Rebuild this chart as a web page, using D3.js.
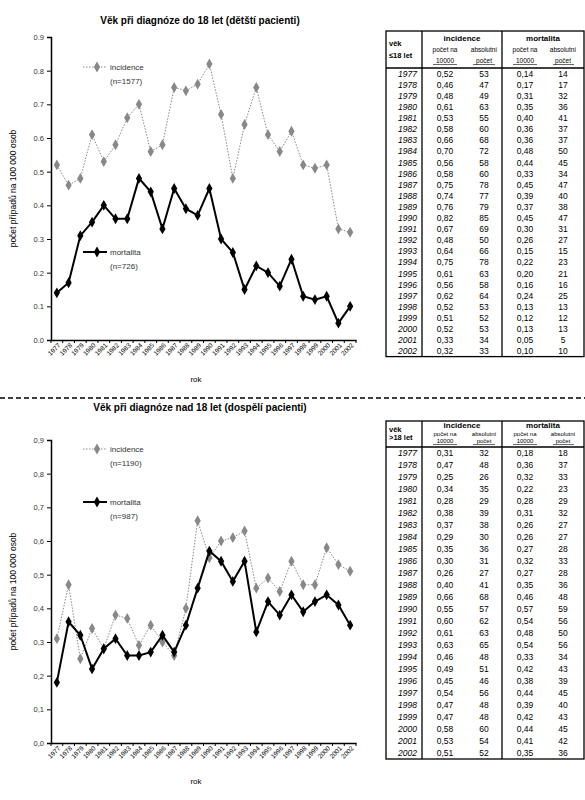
<!DOCTYPE html>
<html><head><meta charset="utf-8">
<script src="https://cdn.jsdelivr.net/npm/d3@7"></script>
<style>body{margin:0;background:#fff}</style>
</head><body>
<svg id="c" width="585" height="800"></svg>
<script>
const roky = d3.range(1977, 2003);
// děti
const detiIncRate = [0.52,0.46,0.48,0.61,0.53,0.58,0.66,0.70,0.56,0.58,0.75,0.74,0.76,0.82,0.67,0.48,0.64,0.75,0.61,0.56,0.62,0.52,0.51,0.52,0.33,0.32];
const detiIncAbs  = [53,47,49,63,55,60,68,72,58,60,78,77,79,85,69,50,66,78,63,58,64,53,52,53,34,33];
const detiMortRate = [0.14,0.17,0.31,0.35,0.40,0.36,0.36,0.48,0.44,0.33,0.45,0.39,0.37,0.45,0.30,0.26,0.15,0.22,0.20,0.16,0.24,0.13,0.12,0.13,0.05,0.10];
const detiMortAbs  = [14,17,32,36,41,37,37,50,45,34,47,40,38,47,31,27,15,23,21,16,25,13,12,13,5,10];
// dospělí
const dospIncRate = [0.31,0.47,0.25,0.34,0.28,0.38,0.37,0.29,0.35,0.30,0.26,0.40,0.66,0.55,0.60,0.61,0.63,0.46,0.49,0.45,0.54,0.47,0.47,0.58,0.53,0.51];
const dospIncAbs  = [32,48,26,35,29,39,38,30,36,31,27,41,68,57,62,63,65,48,51,46,56,48,48,60,54,52];
const dospMortRate = [0.18,0.36,0.32,0.22,0.28,0.31,0.26,0.26,0.27,0.32,0.27,0.35,0.46,0.57,0.54,0.48,0.54,0.33,0.42,0.38,0.44,0.39,0.42,0.44,0.41,0.35];
const dospMortAbs  = [18,37,33,23,29,32,27,27,28,33,28,36,48,59,56,50,56,34,43,39,45,40,43,45,42,36];
const yTicks = [0,0.1,0.2,0.3,0.4,0.5,0.6,0.7,0.8,0.9];

const svg = d3.select("#c");
const F = "Liberation Sans, Arial, sans-serif";

let panel = (o) => {
    const x = d3.scaleBand().domain(roky).range([51, 356]);
    const y = d3.scaleLinear().domain([0, 0.9]).range([o.y0, o.y9]);
    const g = svg.append("g").attr("font-family", F);
    const fmt = (v) => d3.format(".1f")(v).replace(".", o.sep);

    g.append("text").attr("x", 200).attr("y", o.titleY).attr("text-anchor", "middle")
        .attr("font-size", 10).attr("font-weight", "bold").text(o.title);

    const ya = g.append("g").attr("transform", "translate(51,0)")
        .call(d3.axisLeft(y).tickValues(yTicks).tickFormat(fmt).tickSize(4));
    ya.selectAll("text").attr("font-size", 7.5).attr("font-family", F).attr("fill", "#333");
    ya.select(".domain").attr("stroke-width", 1.5);

    const xa = g.append("g").attr("transform", "translate(0," + o.y0 + ")")
        .call(d3.axisBottom(x).tickSize(0).tickFormat(d => d));
    xa.select(".domain").attr("stroke-width", 1.5);
    xa.selectAll("text").attr("font-size", 6.5).attr("font-family", F)
        .attr("text-anchor", "end").attr("dx", "-0.2em").attr("dy", "0.6em")
        .attr("transform", "rotate(-45)");
    g.selectAll(".tk").data(d3.range(27)).enter().append("line")
        .attr("x1", i => 51 + i * x.step()).attr("x2", i => 51 + i * x.step())
        .attr("y1", o.y0).attr("y2", o.y0 + 3).attr("stroke", "#000");

    g.append("text").attr("x", 196).attr("y", o.rokY).attr("text-anchor", "middle")
        .attr("font-size", 8).text("rok");
    g.append("text").attr("transform", "translate(16," + ((o.y0 + o.y9) / 2) + ") rotate(-90)")
        .attr("text-anchor", "middle").attr("font-size", 8.5).text("počet případů na 100 000 osob");

    const cx = (d, i) => x(roky[i]) + x.bandwidth() / 2;
    const line = d3.line().x(cx).y(d => y(d));
    const diamond = d3.symbol().type(d3.symbolDiamond).size(34);

    g.append("path").datum(o.inc).attr("d", line).attr("fill", "none")
        .attr("stroke", "#888").attr("stroke-width", 1).attr("stroke-dasharray", "1.5,1.5");
    g.selectAll(".di").data(o.inc).enter().append("path")
        .attr("d", diamond).attr("fill", "#888")
        .attr("transform", (d, i) => "translate(" + cx(d, i) + "," + y(d) + ")");
    g.append("path").datum(o.mort).attr("d", line).attr("fill", "none")
        .attr("stroke", "#000").attr("stroke-width", 2);
    g.selectAll(".dm").data(o.mort).enter().append("path")
        .attr("d", diamond).attr("fill", "#000")
        .attr("transform", (d, i) => "translate(" + cx(d, i) + "," + y(d) + ")");

    // legenda
    [[o.legInc, "#888", "1.5,1.5", 1, "incidence", o.nInc], [o.legMort, "#000", null, 2, "mortalita", o.nMort]]
    .forEach(([ly, c, da, w, t, n]) => {
        g.append("line").attr("x1", 83).attr("x2", 107).attr("y1", ly).attr("y2", ly)
            .attr("stroke", c).attr("stroke-width", w).attr("stroke-dasharray", da);
        g.append("path").attr("d", diamond).attr("fill", c).attr("transform", "translate(97," + ly + ")");
        g.append("text").attr("x", 110).attr("y", ly + 3).attr("font-size", 8).attr("fill", "#333").text(t);
        g.append("text").attr("x", 110).attr("y", ly + 17).attr("font-size", 8).attr("fill", "#333").text(n);
    });

    // tabulka
    const t = svg.append("g").attr("font-family", F);
    const top = o.tTop, hh = o.hh, hb = top + hh, rh = o.rh, bot = hb + 26 * rh;
    const k = hh / 37;
    t.append("rect").attr("x", 386).attr("y", top).attr("width", 198).attr("height", bot - top)
        .attr("fill", "none").attr("stroke", "#000").attr("stroke-width", 1.3);
    [422, 502].forEach(xx => t.append("line").attr("x1", xx).attr("x2", xx).attr("y1", top).attr("y2", bot)
        .attr("stroke", "#000").attr("stroke-width", 1.3));
    t.append("line").attr("x1", 386).attr("x2", 584).attr("y1", hb).attr("y2", hb).attr("stroke", "#000").attr("stroke-width", 1.3);
    t.append("text").attr("x", 389).attr("y", top + 15 * k).attr("font-size", 7.5).attr("font-weight", "bold").text("věk");
    t.append("text").attr("x", 389).attr("y", top + 27 * k).attr("font-size", 7.5).attr("font-weight", "bold").text(o.vek);
    [[462, "incidence"], [543, "mortalita"]].forEach(([xx, s]) =>
        t.append("text").attr("x", xx).attr("y", top + 9.5 * k).attr("text-anchor", "middle")
            .attr("font-size", 8).attr("font-weight", "bold").text(s));
    const fs = k < 0.8 ? 6 : 6.5;
    [445, 525].forEach(xx => {
        t.append("text").attr("x", xx).attr("y", top + 21 * k).attr("text-anchor", "middle").attr("font-size", fs).text("počet na");
        t.append("text").attr("x", xx).attr("y", top + 32 * k).attr("text-anchor", "middle").attr("font-size", fs).text("10000");
    });
    [484, 563].forEach(xx => {
        t.append("text").attr("x", xx).attr("y", top + 21 * k).attr("text-anchor", "middle").attr("font-size", fs).text("absolutní");
        t.append("text").attr("x", xx).attr("y", top + 32 * k).attr("text-anchor", "middle").attr("font-size", fs).text("počet");
    });
    [[433, 457], [473, 495], [513, 537], [553, 574]].forEach(([a, b]) =>
        t.append("line").attr("x1", a).attr("x2", b).attr("y1", top + 33.5 * k).attr("y2", top + 33.5 * k).attr("stroke", "#000").attr("stroke-width", 0.6));
    const r2 = (v) => d3.format(".2f")(v).replace(".", ",");
    roky.forEach((r, i) => {
        const yy = hb + rh * i + rh / 2 + 3.2;
        t.append("text").attr("x", 417).attr("y", yy).attr("text-anchor", "end").attr("font-size", 8.5).attr("font-style", "italic").text(r);
        t.append("text").attr("x", 445).attr("y", yy).attr("text-anchor", "middle").attr("font-size", 8.5).text(r2(o.inc[i]));
        t.append("text").attr("x", 484).attr("y", yy).attr("text-anchor", "middle").attr("font-size", 8.5).text(o.incAbs[i]);
        t.append("text").attr("x", 525).attr("y", yy).attr("text-anchor", "middle").attr("font-size", 8.5).text(r2(o.mort[i]));
        t.append("text").attr("x", 563).attr("y", yy).attr("text-anchor", "middle").attr("font-size", 8.5).text(o.mortAbs[i]);
    });
};

panel({title: "Věk při diagnóze do 18 let (dětští pacienti)", titleY: 24, y0: 340, y9: 37, rokY: 382, sep: ".",
    inc: detiIncRate, incAbs: detiIncAbs, mort: detiMortRate, mortAbs: detiMortAbs,
    legInc: 67, legMort: 252, nInc: "(n=1577)", nMort: "(n=726)", tTop: 31, hh: 37, rh: 11.1, vek: "≤18 let"});
panel({title: "Věk při diagnóze nad 18 let (dospělí pacienti)", titleY: 411, y0: 743, y9: 440, rokY: 784, sep: ",",
    inc: dospIncRate, incAbs: dospIncAbs, mort: dospMortRate, mortAbs: dospMortAbs,
    legInc: 449, legMort: 502, nInc: "(n=1190)", nMort: "(n=987)", tTop: 421, hh: 26, rh: 12, vek: ">18 let"});

svg.append("line").attr("x1", 0).attr("x2", 585).attr("y1", 398).attr("y2", 398)
    .attr("stroke", "#000").attr("stroke-width", 1.3).attr("stroke-dasharray", "5,3");
</script>
</body></html>
